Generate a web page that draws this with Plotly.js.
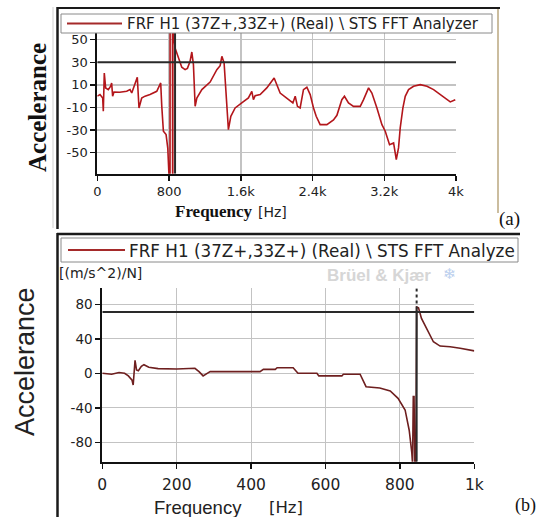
<!DOCTYPE html>
<html>
<head>
<meta charset="utf-8">
<script src="https://cdn.plot.ly/plotly-3.0.1.min.js"></script>
<style>html,body{margin:0;padding:0;background:#fff;}#chart{width:539px;height:517px;}</style>
</head>
<body>
<div id="chart"></div>
<script>
// ---- Data: panel (a) 0–4 kHz ----
const freqA = [0,30,60,67,78,93,123,149,160,171,186,250,328,365,384,405,446,465,495,532,588,663,707,719,737,767,786,797,806,811,812,838,840,842,843,852,856,867,893,915,942,979,1005,1035,1054,1072,1091,1110,1166,1258,1333,1370,1389,1414,1444,1462,1489,1537,1611,1685,1723,1741,1760,1816,1890,1972,2039,2114,2181,2207,2232,2262,2299,2337,2374,2411,2441,2485,2560,2634,2672,2727,2756,2801,2857,2932,2969,3025,3062,3118,3174,3211,3259,3304,3334,3359,3378,3408,3434,3471,3527,3601,3676,3750,3825,3899,3936,3992];
const accA  = [0,1.4,-1.6,-13.4,20.5,7.3,5.8,8.8,11.7,0,3.7,3.5,4.3,5.8,2.8,7.2,16.7,-10.4,-1.6,0,1.4,4.3,11.7,-9,-31,-34,-46,-66,-85,-85,75,75,-85,-85,75,56,51.5,42.7,36.7,30.9,25.6,23.5,24.6,30.9,39.1,27.9,-9,-1.6,5.8,12.5,23.5,27,35.3,29.4,-3.1,-29.6,-17.8,-10.4,-6,-1.6,4.3,-3.1,0.5,1.4,7.3,16.1,2.8,-1.6,-6,0,-9,-10.4,5.8,7.9,1.4,-10.4,-17.8,-25.2,-25.2,-21,-16.9,-3.1,-0.1,-6,-9,-9,-3.1,7.3,2.8,-10.4,-25.2,-31,-42.9,-41.4,-56.2,-45.8,-28.1,-10.4,-0.1,5.8,8.8,10.2,8.8,5.8,1.4,-3.1,-5.1,-3.1];
const xTickValsA = [0,800,1600,2400,3200,4000];
const xTickTextA = ["0","800","1.6k","2.4k","3.2k","4k"];
const yTickValsA = [-50,-30,-10,10,30,50];

// ---- Data: panel (b) 0–1 kHz ----
const freqB = [0,25,45,60,70,80,83,86,88,92,97,105,112,125,150,200,220,249,260,271,282,290,384,424,433,465,470,513,526,577,582,644,648,693,709,746,774,795,814,825,832,834,836,838,840,843,845,850,858,872,890,908,935,962,997,1000];
const accB  = [0,-1,1,0,-3,-8,-13.6,0,15,4,3,8,10,7,5.5,5,5,5.8,2,-3,0,2,2,2,4.6,4.6,6.5,6.5,0,0,-3,-3,-1,-1,-15.5,-17,-20.5,-29,-42.5,-66,-92,-105,-27,-27,-105,-105,77,76,63.7,52,36.6,31.6,30.8,29,26.2,26];
const xTickValsB = [0,200,400,600,800,1000];
const xTickTextB = ["0","200","400","600","800","1k"];
const yTickValsB = [-80,-40,0,40,80];

const legendText = "FRF H1 (37Z+,33Z+) (Real) \\ STS FFT Analyzer";
const legendTextB = "FRF H1 (37Z+,33Z+) (Real) \\ STS FFT Analyze";

// ---- layout helpers (pixel -> paper) ----
const W = 539, H = 517;
const px = v => v / W;
const py = v => 1 - v / H;

const rangeA = [-68.6, 55.9];
const rangeB = [-102.5, 98.6];
const cursorA = {x: 867, y: 30};
const cursorB = {x: 845, y: 71, peak: 74};

const tickFont = s => ({family: "DejaVu Sans, Tahoma, sans-serif", size: s, color: "#222"});

const traces = [
  {x: freqA, y: accA, xaxis: "x", yaxis: "y", type: "scatter", mode: "lines",
   line: {color: "#b3161b", width: 1.6}, hoverinfo: "skip", showlegend: false},
  {x: freqB, y: accB, xaxis: "x2", yaxis: "y2", type: "scatter", mode: "lines",
   line: {color: "#6e1f1f", width: 1.6}, hoverinfo: "skip", showlegend: false}
];

const axCommon = {
  showgrid: true, gridcolor: "#c3c3c3", zeroline: false, showline: true,
  linecolor: "#111", linewidth: 2, ticks: "outside", ticklen: 5, tickwidth: 1.5,
  tickcolor: "#111", tickmode: "array", fixedrange: true
};

const shapes = [
  // cursors (a)
  {type: "line", xref: "x", yref: "y", x0: 0, x1: 4000, y0: cursorA.y, y1: cursorA.y, line: {color: "#2a2a2a", width: 2}},
  {type: "line", xref: "x", yref: "y", x0: cursorA.x, x1: cursorA.x, y0: rangeA[0], y1: rangeA[1], line: {color: "#2a2a2a", width: 2}},
  // cursors (b)
  {type: "line", xref: "x2", yref: "y2", x0: 0, x1: 1000, y0: cursorB.y, y1: cursorB.y, line: {color: "#2a2a2a", width: 2}},
  {type: "line", xref: "x2", yref: "y2", x0: cursorB.x, x1: cursorB.x, y0: rangeB[0], y1: cursorB.peak, line: {color: "#2a2a2a", width: 2}},
  {type: "line", xref: "x2", yref: "y2", x0: cursorB.x, x1: cursorB.x, y0: cursorB.peak, y1: rangeB[1], line: {color: "#2a2a2a", width: 2, dash: "dot"}},
  // frame (a)
  {type: "line", xref: "paper", yref: "paper", x0: px(53), x1: px(53), y0: py(7), y1: py(228), line: {color: "#cfcfcf", width: 1}},
  {type: "line", xref: "paper", yref: "paper", x0: px(57.5), x1: px(57.5), y0: py(7), y1: py(229), line: {color: "#1a1a1a", width: 2.5}},
  {type: "line", xref: "paper", yref: "paper", x0: px(57), x1: px(500), y0: py(8), y1: py(8), line: {color: "#1a1a1a", width: 2}},
  {type: "line", xref: "paper", yref: "paper", x0: px(498), x1: px(498), y0: py(9), y1: py(213), line: {color: "#cbbd9f", width: 2}},
  // legend box (a)
  {type: "rect", xref: "paper", yref: "paper", x0: px(61), x1: px(492), y0: py(14), y1: py(33), fillcolor: "#ffffff", line: {color: "#8a8a8a", width: 1}},
  {type: "line", xref: "paper", yref: "paper", x0: px(67), x1: px(122), y0: py(23.5), y1: py(23.5), line: {color: "#a52a2a", width: 2}},
  // frame (b)
  {type: "line", xref: "paper", yref: "paper", x0: px(57.5), x1: px(57.5), y0: py(233), y1: py(517), line: {color: "#1a1a1a", width: 2.5}},
  {type: "line", xref: "paper", yref: "paper", x0: px(57), x1: px(520), y0: py(234), y1: py(234), line: {color: "#1a1a1a", width: 2.5}},
  // legend box (b)
  {type: "rect", xref: "paper", yref: "paper", x0: px(61), x1: px(518), y0: py(238), y1: py(262), fillcolor: "#ffffff", line: {color: "#8a8a8a", width: 1}},
  {type: "line", xref: "paper", yref: "paper", x0: px(68), x1: px(125), y0: py(250), y1: py(250), line: {color: "#a52a2a", width: 2}}
];

const ann = (text, x, y, font, extra) => Object.assign({
  text: text, xref: "paper", yref: "paper", x: px(x), y: py(y),
  xanchor: "center", yanchor: "middle", showarrow: false, font: font
}, extra || {});

const annotations = [
  ann(legendText, 125, 24, {family: "DejaVu Sans, Tahoma, sans-serif", size: 15, color: "#222"}, {xanchor: "left"}),
  ann(legendTextB, 127, 250.5, {family: "DejaVu Sans, Tahoma, sans-serif", size: 16.8, color: "#222"}, {xanchor: "left"}),
  ann("<b>Accelerance</b>", 37, 108, {family: "Liberation Serif, Times New Roman, serif", size: 25, color: "#111"}, {textangle: -90}),
  ann("<b>Frequency</b>", 214, 211, {family: "Liberation Serif, Times New Roman, serif", size: 17, color: "#111"}),
  ann("[Hz]", 272, 212, {family: "DejaVu Sans, Tahoma, sans-serif", size: 14, color: "#222"}),
  ann("(a)", 509, 219, {family: "Liberation Serif, Times New Roman, serif", size: 19, color: "#111"}),
  ann("Accelerance", 25, 362, {family: "Liberation Sans, Arial, sans-serif", size: 27, color: "#222"}, {textangle: -90}),
  ann("Frequency", 198, 508, {family: "Liberation Sans, Arial, sans-serif", size: 18.5, color: "#222"}),
  ann("[Hz]", 286, 508, {family: "DejaVu Sans, Tahoma, sans-serif", size: 16.5, color: "#222"}),
  ann("(b)", 525, 505, {family: "Liberation Serif, Times New Roman, serif", size: 18, color: "#111"}),
  ann("[(m/s^2)/N]", 57, 273, {family: "DejaVu Sans, Tahoma, sans-serif", size: 14, color: "#222"}, {xanchor: "left"}),
  ann("<b>Brüel & Kjær</b>", 379, 275, {family: "Liberation Sans, Arial, sans-serif", size: 17, color: "#d6d6d6"}),
  ann("❄", 449, 274, {family: "DejaVu Sans, sans-serif", size: 15, color: "#bcd0ee"})
];

const layout = {
  width: W, height: H, autosize: false,
  margin: {l: 0, r: 0, t: 0, b: 0, pad: 0},
  paper_bgcolor: "#ffffff", plot_bgcolor: "#ffffff",
  showlegend: false,
  xaxis: Object.assign({}, axCommon, {
    domain: [px(97.3), px(456)], range: [0, 4000], anchor: "y",
    tickvals: xTickValsA, ticktext: xTickTextA, tickfont: tickFont(13), gridwidth: 1.5
  }),
  yaxis: Object.assign({}, axCommon, {
    domain: [py(173.7), py(33)], range: rangeA, anchor: "x",
    tickvals: yTickValsA, ticktext: yTickValsA.map(String), tickfont: tickFont(13), gridwidth: 1.5
  }),
  xaxis2: Object.assign({}, axCommon, {
    domain: [px(102.3), px(474.3)], range: [0, 1000], anchor: "y2",
    tickvals: xTickValsB, ticktext: xTickTextB, tickfont: tickFont(15.5), gridwidth: 1,
    ticklabelstandoff: 3
  }),
  yaxis2: Object.assign({}, axCommon, {
    domain: [py(461.7), py(288.3)], range: rangeB, anchor: "x2",
    tickvals: yTickValsB, ticktext: yTickValsB.map(String), tickfont: tickFont(13.5), gridwidth: 1
  }),
  shapes: shapes,
  annotations: annotations
};

Plotly.newPlot("chart", traces, layout, {staticPlot: true, displayModeBar: false});
</script>
</body>
</html>
